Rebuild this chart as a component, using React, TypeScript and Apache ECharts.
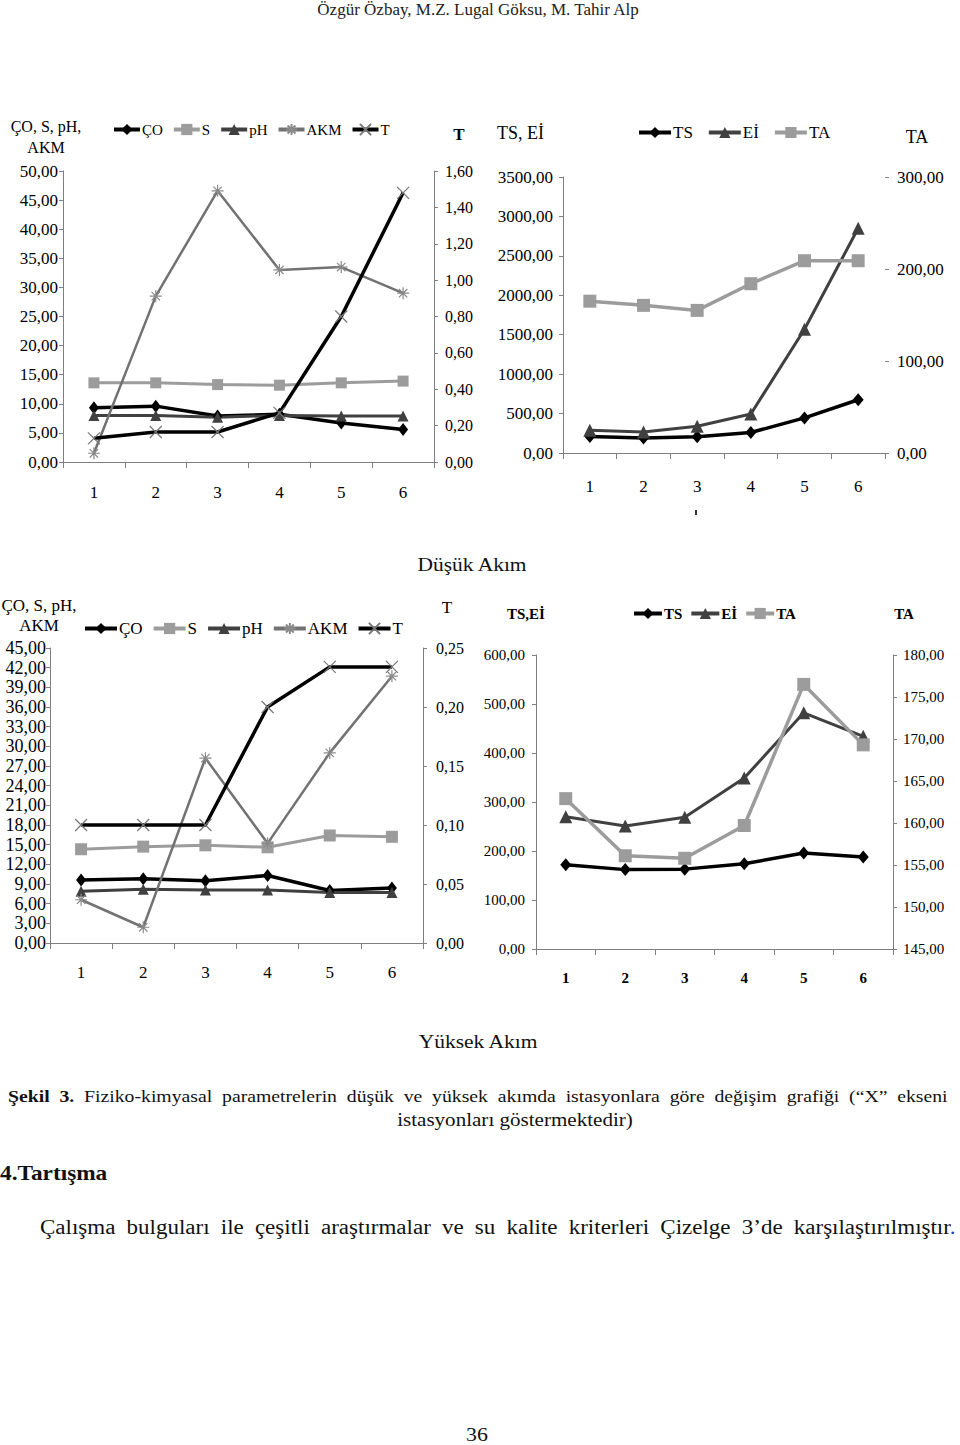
import React, { useEffect, useRef } from "react";
import * as echarts from "echarts";

// ---------- DATA ----------
const stations = ["1", "2", "3", "4", "5", "6"];

// Düşük Akım (low flow) – left chart
const lowCO = [9.3, 9.6, 7.9, 8.2, 6.7, 5.6];
const lowS = [13.6, 13.6, 13.3, 13.2, 13.6, 13.9];
const lowPH = [8.0, 8.0, 7.7, 8.0, 7.9, 7.9];
const lowAKM = [1.5, 28.5, 46.6, 33.0, 33.5, 29.0];
const lowT = [0.13, 0.165, 0.165, 0.27, 0.8, 1.48];
// Düşük Akım – right chart
const lowTS = [210, 190, 205, 260, 445, 675];
const lowEI = [290, 265, 340, 495, 1570, 2850];
const lowTA = [165, 160.5, 155, 184, 209, 209];

// Yüksek Akım (high flow) – left chart
const highCO = [9.6, 9.8, 9.5, 10.3, 8.0, 8.4];
const highS = [14.3, 14.7, 14.9, 14.6, 16.4, 16.2];
const highPH = [7.9, 8.2, 8.1, 8.1, 7.7, 7.7];
const highAKM = [6.6, 2.4, 28.2, 15.2, 29.0, 40.7];
const highT = [0.1, 0.1, 0.1, 0.2, 0.234, 0.234];
// Yüksek Akım – right chart
const highTS = [172, 162, 163, 174, 196, 188];
const highEI = [270, 251, 269, 349, 482, 434];
const highTA = [162.9, 156.1, 155.8, 159.7, 176.5, 169.3];

const legendLeft = ["ÇO", "S", "pH", "AKM", "T"];
const legendRight = ["TS", "Eİ", "TA"];

// ---------- STYLE ----------
const FONT = "'Liberation Serif', 'Times New Roman', serif";
const AX = "#7f7f7f";
const C_BLACK = "#000000";
const C_LIGHT = "#9c9c9c";
const C_DARK = "#404040";
const C_MID = "#727272";
const STAR = "path://M5,0L5,10M0,5L10,5M1.5,1.5L8.5,8.5M8.5,1.5L1.5,8.5";
const CROSS = "path://M0,0L10,10M10,0L0,10";

const fmt = (v: number) => v.toFixed(2).replace(".", ",");

function xAx(gi: number, fs: number, margin: number, bold = false) {
  return {
    type: "category",
    gridIndex: gi,
    data: stations,
    axisLine: { onZero: false, lineStyle: { color: AX, width: 1 } },
    axisTick: { show: true, length: 6, lineStyle: { color: AX } },
    axisLabel: {
      fontFamily: FONT,
      fontSize: fs,
      color: "#000",
      margin,
      fontWeight: bold ? "bold" : "normal",
    },
    splitLine: { show: false },
  };
}

function yAx(
  gi: number,
  pos: string,
  min: number,
  max: number,
  interval: number,
  fs: number,
  margin: number,
  showLine = true
) {
  return {
    type: "value",
    gridIndex: gi,
    position: pos,
    min,
    max,
    interval,
    axisLine: { show: showLine, lineStyle: { color: AX, width: 1 } },
    axisTick: { show: true, length: 4, lineStyle: { color: AX } },
    axisLabel: { fontFamily: FONT, fontSize: fs, color: "#000", margin, formatter: fmt },
    splitLine: { show: false },
  };
}

function ser(
  name: string,
  data: number[],
  xi: number,
  yi: number,
  color: string,
  width: number,
  symbol: string,
  size: number | number[],
  border?: string
) {
  return {
    type: "line",
    name,
    data,
    xAxisIndex: xi,
    yAxisIndex: yi,
    symbol,
    symbolSize: size,
    showAllSymbol: true,
    lineStyle: { color, width },
    itemStyle: border
      ? { color: "transparent", borderColor: border, borderWidth: 1.2 }
      : { color },
    emphasis: { disabled: true },
  };
}

function lg(left: number, top: number, data: string[], fs: number, iw: number, gap: number, bold = false) {
  return {
    left,
    top,
    padding: 0,
    orient: "horizontal",
    data,
    itemWidth: iw,
    itemHeight: 14,
    itemGap: gap,
    selectedMode: false,
    lineStyle: { width: 4 },
    textStyle: {
      fontFamily: FONT,
      fontSize: fs,
      color: "#000",
      fontWeight: bold ? "bold" : "normal",
      padding: [0, 0, 0, -3],
    },
  };
}

function gtext(text: string, x: number, y: number, fs: number, align = "center", bold = false, lh?: number) {
  return {
    type: "text",
    x,
    y,
    style: {
      text,
      fontFamily: FONT,
      fontSize: fs,
      fontWeight: bold ? "bold" : "normal",
      fill: "#000",
      align,
      verticalAlign: "middle",
      lineHeight: lh,
    },
  };
}

function buildOption() {
  return {
    animation: false,
    backgroundColor: "#ffffff",
    grid: [
      { left: 63, top: 171, width: 371, height: 291, outerBoundsMode: "none" },
      { left: 563, top: 177, width: 322, height: 276, outerBoundsMode: "none" },
      { left: 50, top: 648, width: 373, height: 295, outerBoundsMode: "none" },
      { left: 536, top: 655, width: 357, height: 294, outerBoundsMode: "none" },
    ],
    xAxis: [xAx(0, 17, 22), xAx(1, 17, 25), xAx(2, 17, 21), xAx(3, 15, 21, true)],
    yAxis: [
      yAx(0, "left", 0, 50, 5, 17, 5),
      yAx(0, "right", 0, 1.6, 0.2, 16, 11),
      yAx(1, "left", 0, 3500, 500, 17, 10),
      yAx(1, "right", 0, 300, 100, 17, 12, false),
      yAx(2, "left", 0, 45, 3, 18, 4),
      yAx(2, "right", 0, 0.25, 0.05, 16, 13),
      yAx(3, "left", 0, 600, 100, 15, 11),
      yAx(3, "right", 145, 180, 5, 15, 10),
    ],
    legend: [
      lg(112, 122, legendLeft, 15, 26, 9),
      lg(637, 124, legendRight, 17, 32, 14),
      lg(83, 620, legendLeft, 17, 32, 9),
      lg(632, 606, legendRight, 15, 28, 7, true),
    ],
    series: [
      ser("ÇO", lowCO, 0, 0, C_BLACK, 3.5, "diamond", [10, 13]),
      ser("S", lowS, 0, 0, C_LIGHT, 3, "rect", 11),
      ser("pH", lowPH, 0, 0, C_DARK, 3, "triangle", 11),
      ser("AKM", lowAKM, 0, 0, C_MID, 2.5, STAR, 12, "#8a8a8a"),
      ser("T", lowT, 0, 1, C_BLACK, 3.5, CROSS, 12, "#777777"),

      ser("TS", lowTS, 1, 2, C_BLACK, 3.5, "diamond", [11, 13]),
      ser("Eİ", lowEI, 1, 2, C_DARK, 3, "triangle", 13),
      ser("TA", lowTA, 1, 3, C_LIGHT, 3.5, "rect", 13),

      ser("ÇO", highCO, 2, 4, C_BLACK, 3.5, "diamond", [10, 13]),
      ser("S", highS, 2, 4, C_LIGHT, 3, "rect", 12),
      ser("pH", highPH, 2, 4, C_DARK, 3, "triangle", 11),
      ser("AKM", highAKM, 2, 4, C_MID, 2.5, STAR, 12, "#8a8a8a"),
      ser("T", highT, 2, 5, C_BLACK, 3.5, CROSS, 12, "#777777"),

      ser("TS", highTS, 3, 6, C_BLACK, 3.5, "diamond", [11, 13]),
      ser("Eİ", highEI, 3, 6, C_DARK, 3, "triangle", 13),
      ser("TA", highTA, 3, 7, C_LIGHT, 3.5, "rect", 13),
    ],
    graphic: [
      gtext("ÇO, S, pH,\nAKM", 46, 137, 16, "center", false, 21),
      gtext("T", 459, 134, 17, "center", true),
      gtext("TS, Eİ", 497, 133, 18, "left"),
      gtext("TA", 917, 137, 18, "center"),
      gtext("ÇO, S, pH,\nAKM", 39, 615, 17, "center", false, 20),
      gtext("T", 447, 607, 17, "center"),
      gtext("TS,Eİ", 507, 614, 15, "left", true),
      gtext("TA", 904, 614, 15, "center", true),
      {
        type: "rect",
        shape: { x: 695, y: 510, width: 2, height: 5 },
        style: { fill: "#333" },
      },
    ],
  };
}

const abs: React.CSSProperties = {
  position: "absolute",
  fontFamily: FONT,
  color: "#111",
  whiteSpace: "normal",
};

export default function App() {
  const ref = useRef<HTMLDivElement>(null);
  useEffect(() => {
    document.body.style.margin = "0";
    const chart = echarts.init(ref.current!, undefined, { renderer: "svg" });
    chart.setOption(buildOption() as any);
    return () => chart.dispose();
  }, []);

  return (
    <div style={{ position: "relative", width: 960, height: 1445, background: "#fff", overflow: "hidden" }}>
      <div ref={ref} style={{ position: "absolute", left: 0, top: 0, width: 960, height: 1445 }} />
      <div style={{ ...abs, left: 0, top: 0, width: 956, textAlign: "center", fontSize: 17, lineHeight: "20px", color: "#222" }}>
        Özgür Özbay, M.Z. Lugal Göksu, M. Tahir Alp
      </div>
      <div
        style={{
          ...abs,
          left: 372,
          top: 553,
          width: 200,
          textAlign: "center",
          fontSize: 19,
          lineHeight: "24px",
          transform: "scaleX(1.13)",
          transformOrigin: "center",
        }}
      >
        Düşük Akım
      </div>
      <div
        style={{
          ...abs,
          left: 378,
          top: 1030,
          width: 200,
          textAlign: "center",
          fontSize: 19,
          lineHeight: "24px",
          transform: "scaleX(1.13)",
          transformOrigin: "center",
        }}
      >
        Yüksek Akım
      </div>
      <div
        style={{
          ...abs,
          left: 8,
          top: 1085,
          width: 810,
          fontSize: 17,
          lineHeight: "24px",
          textAlign: "justify",
          textAlignLast: "justify",
          transform: "scaleX(1.16)",
          transformOrigin: "left top",
        }}
      >
        <b>Şekil 3.</b> Fiziko-kimyasal parametrelerin düşük ve yüksek akımda istasyonlara göre değişim grafiği (“X” ekseni
      </div>
      <div
        style={{
          ...abs,
          left: 315,
          top: 1108,
          width: 400,
          textAlign: "center",
          fontSize: 18,
          lineHeight: "24px",
          transform: "scaleX(1.17)",
          transformOrigin: "center",
        }}
      >
        istasyonları göstermektedir)
      </div>
      <div
        style={{
          ...abs,
          left: 0,
          top: 1160,
          fontSize: 21,
          lineHeight: "26px",
          fontWeight: "bold",
          transform: "scaleX(1.11)",
          transformOrigin: "left top",
        }}
      >
        4.Tartışma
      </div>
      <div
        style={{
          ...abs,
          left: 40,
          top: 1214,
          width: 796,
          fontSize: 20,
          lineHeight: "26px",
          textAlign: "justify",
          textAlignLast: "justify",
          transform: "scaleX(1.15)",
          transformOrigin: "left top",
        }}
      >
        Çalışma bulguları ile çeşitli araştırmalar ve su kalite kriterleri Çizelge 3’de karşılaştırılmıştır
        <span style={{ color: "#1f3fbf" }}>.</span>
      </div>
      <div
        style={{
          ...abs,
          left: 427,
          top: 1423,
          width: 100,
          textAlign: "center",
          fontSize: 19,
          lineHeight: "24px",
          transform: "scaleX(1.15)",
          transformOrigin: "center",
        }}
      >
        36
      </div>
    </div>
  );
}
